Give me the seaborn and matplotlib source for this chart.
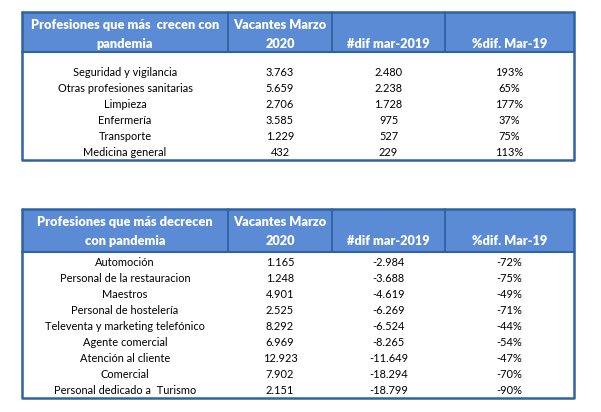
import matplotlib
matplotlib.use("Agg")
import matplotlib.pyplot as plt
from matplotlib.patches import Rectangle
import seaborn as sb

sb.set_theme(style="white")
plt.rcParams['font.family'] = ['Lato', 'DejaVu Sans']

# data
headers_up = ["Profesiones que más  crecen con\npandemia", "Vacantes Marzo\n2020", "#dif mar-2019", "%dif. Mar-19"]
prof_up = ["Seguridad y vigilancia", "Otras profesiones sanitarias", "Limpieza",
           "Enfermería", "Transporte", "Medicina general"]
vac_up = [3763, 5659, 2706, 3585, 1229, 432]
dif_up = [2480, 2238, 1728, 975, 527, 229]
pct_up = [193, 65, 177, 37, 75, 113]

headers_down = ["Profesiones que más decrecen\ncon pandemia", "Vacantes Marzo\n2020", "#dif mar-2019", "%dif. Mar-19"]
prof_down = ["Automoción", "Personal de la restauracion", "Maestros", "Personal de hostelería",
             "Televenta y marketing telefónico", "Agente comercial", "Atención al cliente",
             "Comercial", "Personal dedicado a  Turismo"]
vac_down = [1165, 1248, 4901, 2525, 8292, 6969, 12923, 7902, 2151]
dif_down = [-2984, -3688, -4619, -6269, -6524, -8265, -11649, -18294, -18799]
pct_down = [-72, -75, -49, -71, -44, -54, -47, -70, -90]

HEAD = "#5b8bd4"
EDGE = "#2f62a3"
cols = [22, 228, 332, 445, 574]


def miles(v):
    return f"{v:,}".replace(",", ".")


def draw_table(ax, top, head_bot, bottom, first_row, headers, prof, vac, dif, pct):
    ax.add_patch(Rectangle((cols[0], top), cols[-1] - cols[0], head_bot - top,
                           facecolor=HEAD, edgecolor="none"))
    # header text
    for i, h in enumerate(headers):
        cx = (cols[i] + cols[i + 1]) / 2
        lines = h.split("\n")
        if len(lines) == 1:
            lines = ["", lines[0]]
        ax.text(cx, top + 12.5, lines[0], ha="center", va="center", color="white",
                fontsize=9.2, fontweight="heavy")
        ax.text(cx, top + 31.5, lines[1], ha="center", va="center", color="white",
                fontsize=9.2, fontweight="heavy")
    # header dividers
    for x in cols[1:-1]:
        ax.plot([x, x], [top, head_bot], color=EDGE, lw=1.3)
    # outer border
    ax.plot([cols[0], cols[-1]], [top, top], color=EDGE, lw=1.8)
    ax.plot([cols[0], cols[-1]], [head_bot, head_bot], color=EDGE, lw=1.5)
    ax.plot([cols[0], cols[0], cols[-1], cols[-1]], [top, bottom, bottom, top], color=EDGE, lw=1.8)
    # body
    for r in range(len(prof)):
        y = first_row + r * 16
        vals = [prof[r], miles(vac[r]), miles(dif[r]), f"{pct[r]}%"]
        for i, v in enumerate(vals):
            cx = (cols[i] + cols[i + 1]) / 2
            ax.text(cx, y, v, ha="center", va="center", color="black", fontsize=7.9)


fig = plt.figure(figsize=(6.01, 4.12), dpi=100)
ax = fig.add_axes([0, 0, 1, 1])
ax.set_xlim(0, 601)
ax.set_ylim(412, 0)
ax.axis("off")

draw_table(ax, 12, 52, 160, 72, headers_up, prof_up, vac_up, dif_up, pct_up)
draw_table(ax, 209, 252, 398, 262, headers_down, prof_down, vac_down, dif_down, pct_down)

fig.savefig("out.png", dpi=100, facecolor="white")
